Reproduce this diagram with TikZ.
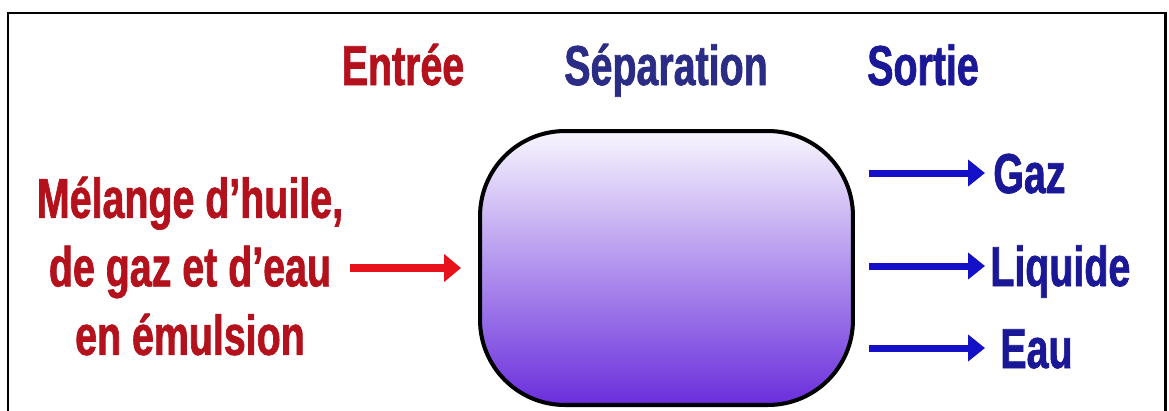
\documentclass[tikz,border=0pt]{standalone}
\usepackage{fontspec}
\newfontfamily\narrowsans{Liberation Sans}[FakeStretch=0.7, FakeBold=1.2]
\usepackage{tikz}
\usetikzlibrary{arrows.meta, positioning, calc}

\definecolor{inred}{HTML}{B3121C}
\definecolor{arrowred}{HTML}{E8121A}
\definecolor{sepnavy}{HTML}{2A2C86}
\definecolor{outblue}{HTML}{1A1896}
\definecolor{arrowblue}{HTML}{1410C8}
\definecolor{vesseltop}{HTML}{F8F6FE}
\definecolor{vesselmid}{HTML}{B9A2EC}
\definecolor{vesselbot}{HTML}{6A2EDC}

\begin{document}
\begin{tikzpicture}[
    x=0.02cm, y=-0.02cm,
    font=\narrowsans\bfseries\fontsize{32}{39}\selectfont,
    heading/.style={text height=0.8cm, text depth=0pt, inner sep=0pt},
    vessel_box/.style={rectangle, rounded corners=1.7cm, draw=black, line width=2.3pt, minimum width=7.46cm, minimum height=5.48cm, top color=vesseltop, middle color=vesselmid, bottom color=vesselbot},
    in_arrow/.style={-{Triangle[length=0.34cm, width=0.54cm]}, draw=arrowred, line width=0.16cm},
    out_arrow/.style={-{Triangle[length=0.34cm, width=0.52cm]}, draw=arrowblue, line width=0.14cm},
    out_label/.style={heading, anchor=west, text=outblue}
]
\useasboundingbox (0,0) rectangle (1169,410);
\draw[line width=1.7pt] (8,430) -- (8,13) -- (1165,13) -- (1165,430);

% Nodes
\node (entree) [heading, text=inred] at (403,65) {Entrée};
\node (separation) [heading, text=sepnavy] at (666,65) {Séparation};
\node (sortie) [heading, text=outblue] at (923,65) {Sortie};

\node (vessel) [vessel_box] at (666.5,268) {};
\node (mix) [align=center, inner sep=0pt, text=inred] at (190,266) {Mélange d’huile,\\de gaz et d’eau\\en émulsion};

\node (gaz) [out_label] at (993,173) {Gaz};
\node (liquide) [out_label] at (990,266) {Liquide};
\node (eau) [out_label] at (1000,348) {Eau};

% Paths
\draw [in_arrow, shorten <=0.14cm, shorten >=0.34cm] (mix.east |- vessel.west) -- (vessel.west);
\draw [out_arrow, shorten <=0.28cm, shorten >=0.16cm] (vessel.east |- gaz.west) -- (gaz.west);
\draw [out_arrow, shorten <=0.28cm, shorten >=0.1cm] (vessel.east |- liquide.west) -- (liquide.west);
\draw [out_arrow, shorten <=0.28cm, shorten >=0.3cm] (vessel.east |- eau.west) -- (eau.west);

\end{tikzpicture}
\end{document}
